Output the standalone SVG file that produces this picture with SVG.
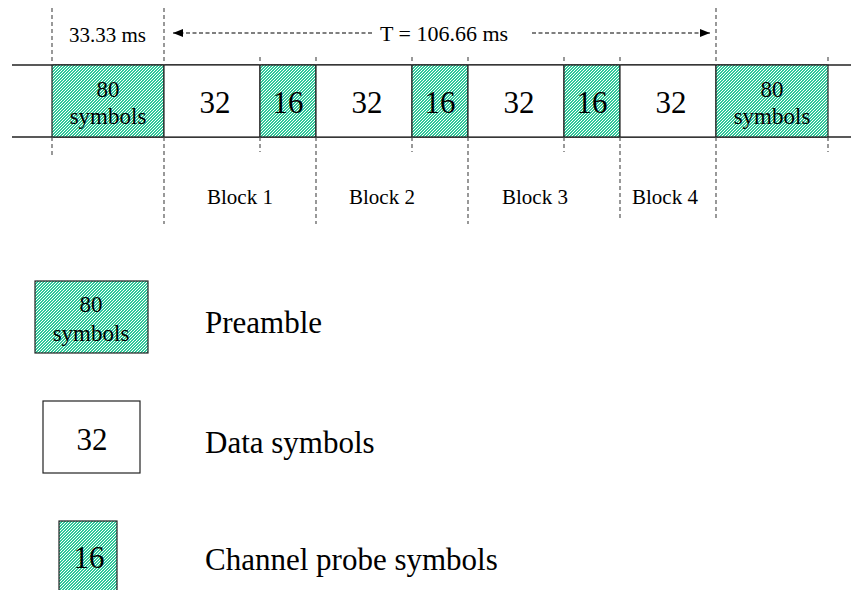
<svg xmlns="http://www.w3.org/2000/svg" width="851" height="590" viewBox="0 0 851 590">
<defs>
<pattern id="hatch" width="3" height="3" patternUnits="userSpaceOnUse">
<rect width="3" height="3" fill="#2fc99a"/>
<path d="M-1,1 L1,-1 M0,3 L3,0 M2,4 L4,2" stroke="#ffffff" stroke-width="1"/>
</pattern>
<marker id="ah" viewBox="0 0 10 8" refX="10" refY="4" markerWidth="10" markerHeight="8" markerUnits="userSpaceOnUse" orient="auto-start-reverse">
<path d="M0,0 L10,4 L0,8 Z" fill="#000"/>
</marker>
<style>
text{font-family:"Liberation Serif","Times New Roman",serif;fill:#000}
.pre{fill:url(#hatch);stroke:#222;stroke-width:1.2}
.dat{fill:#fff;stroke:#222;stroke-width:1.2}
.big{font-size:31px;text-anchor:middle}
.sm{font-size:23px;text-anchor:middle}
.lbl{font-size:21px}
.leg{font-size:31px}
.dv{stroke:#555;stroke-width:1.2;stroke-dasharray:4 3;fill:none}
.ar{stroke:#000;stroke-width:1.2;stroke-dasharray:4 2.5;fill:none}
.hl{stroke:#222;stroke-width:1.3}
</style>
</defs>

<g id="rails">
<line class="hl" x1="12" y1="65" x2="851" y2="65"/>
<line class="hl" x1="12" y1="137" x2="851" y2="137"/>
</g>

<g id="p1"><rect class="pre" x="52" y="65" width="112" height="72"/><text class="sm" x="108" y="97">80</text><text class="sm" x="108" y="124">symbols</text></g>
<g id="d1"><rect class="dat" x="164" y="65" width="96" height="72"/><text class="big" x="215" y="113">32</text></g>
<g id="c1"><rect class="pre" x="260" y="65" width="56" height="72"/><text class="big" x="288" y="113">16</text></g>
<g id="d2"><rect class="dat" x="316" y="65" width="96" height="72"/><text class="big" x="367" y="113">32</text></g>
<g id="c2"><rect class="pre" x="412" y="65" width="56" height="72"/><text class="big" x="440" y="113">16</text></g>
<g id="d3"><rect class="dat" x="468" y="65" width="96" height="72"/><text class="big" x="519" y="113">32</text></g>
<g id="c3"><rect class="pre" x="564" y="65" width="56" height="72"/><text class="big" x="592" y="113">16</text></g>
<g id="d4"><rect class="dat" x="620" y="65" width="96" height="72"/><text class="big" x="671" y="113">32</text></g>
<g id="p2"><rect class="pre" x="716" y="65" width="112" height="72"/><text class="sm" x="772" y="97">80</text><text class="sm" x="772" y="124">symbols</text></g>

<g id="dividers">
<line class="dv" x1="52" y1="8" x2="52" y2="65"/>
<line class="dv" x1="52" y1="137" x2="52" y2="155"/>
<line class="dv" x1="164" y1="8" x2="164" y2="65"/>
<line class="dv" x1="164" y1="137" x2="164" y2="224"/>
<line class="dv" x1="260" y1="57" x2="260" y2="65"/>
<line class="dv" x1="260" y1="137" x2="260" y2="152"/>
<line class="dv" x1="316" y1="57" x2="316" y2="65"/>
<line class="dv" x1="316" y1="137" x2="316" y2="224"/>
<line class="dv" x1="412" y1="57" x2="412" y2="65"/>
<line class="dv" x1="412" y1="137" x2="412" y2="152"/>
<line class="dv" x1="468" y1="57" x2="468" y2="65"/>
<line class="dv" x1="468" y1="137" x2="468" y2="224"/>
<line class="dv" x1="564" y1="57" x2="564" y2="65"/>
<line class="dv" x1="564" y1="137" x2="564" y2="152"/>
<line class="dv" x1="620" y1="57" x2="620" y2="65"/>
<line class="dv" x1="620" y1="137" x2="620" y2="218"/>
<line class="dv" x1="716" y1="8" x2="716" y2="65"/>
<line class="dv" x1="716" y1="137" x2="716" y2="218"/>
<line class="dv" x1="828" y1="57" x2="828" y2="65"/>
<line class="dv" x1="828" y1="137" x2="828" y2="152"/>
</g>

<g id="connectors">
<line class="ar" x1="372" y1="33" x2="173" y2="33" marker-end="url(#ah)"/>
<line class="ar" x1="532" y1="33" x2="710" y2="33" marker-end="url(#ah)"/>
</g>

<g id="labels">
<text class="lbl" x="69" y="42">33.33 ms</text>
<text class="lbl" x="380" y="41" style="font-size:22px">T = 106.66 ms</text>
<text class="lbl" x="207" y="204">Block 1</text>
<text class="lbl" x="349" y="204">Block 2</text>
<text class="lbl" x="502" y="204">Block 3</text>
<text class="lbl" x="632" y="204">Block 4</text>
</g>

<g id="legend-preamble"><rect class="pre" x="35" y="281" width="113" height="72"/><text class="sm" x="91" y="312">80</text><text class="sm" x="91" y="341">symbols</text><text class="leg" x="205" y="333">Preamble</text></g>
<g id="legend-data"><rect class="dat" x="43" y="401" width="97" height="72"/><text class="big" x="92" y="450">32</text><text class="leg" x="205" y="453">Data symbols</text></g>
<g id="legend-probe"><rect class="pre" x="59" y="521" width="58" height="72"/><text class="big" x="89" y="568">16</text><text class="leg" x="205" y="570">Channel probe symbols</text></g>
</svg>
